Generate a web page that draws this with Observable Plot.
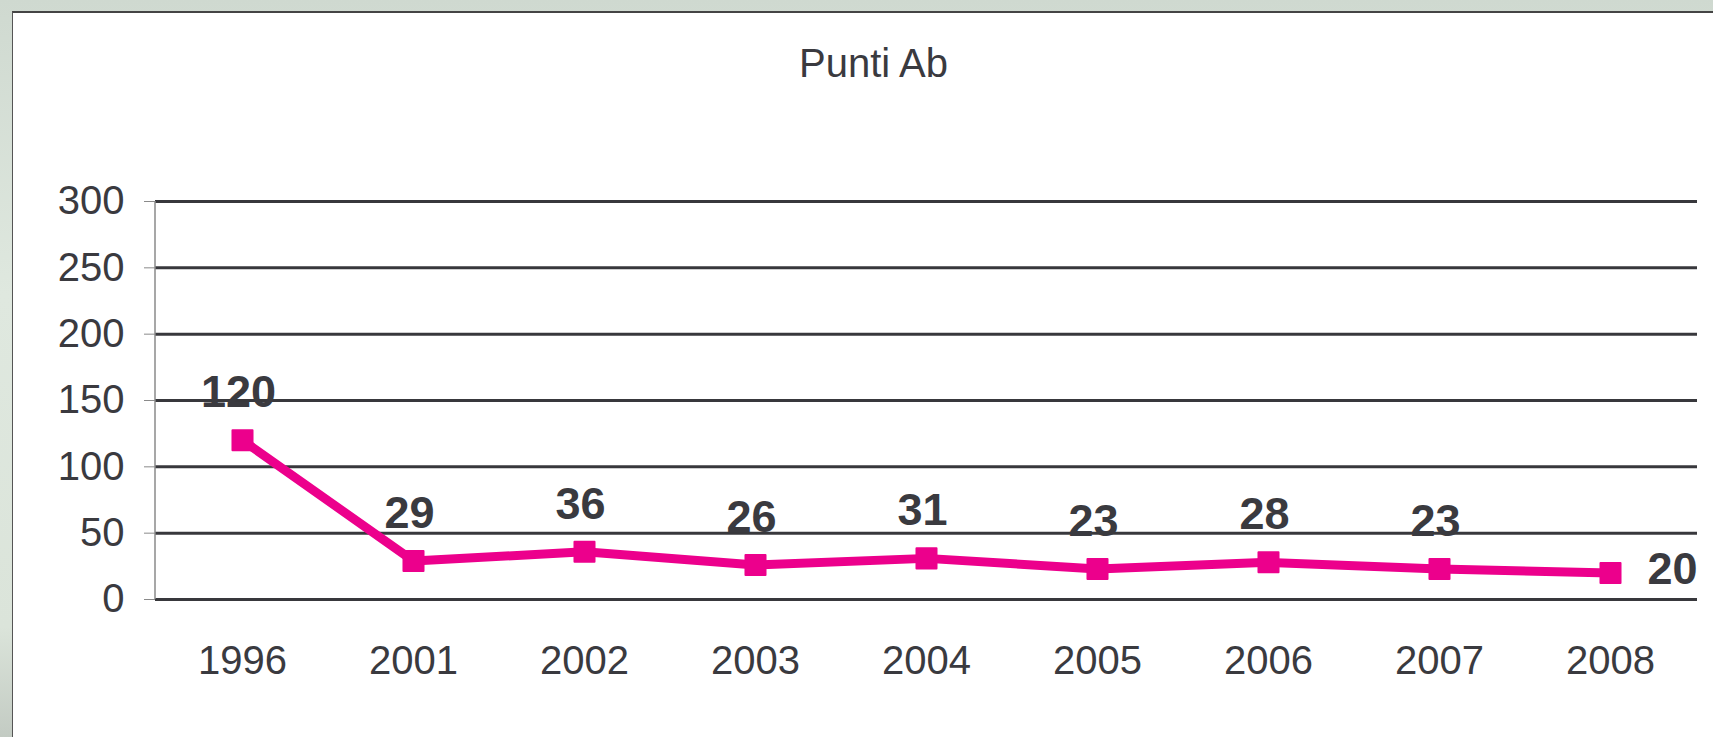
<!DOCTYPE html>
<html>
<head>
<meta charset="utf-8">
<script src="https://cdn.jsdelivr.net/npm/d3@7"></script>
<script src="https://cdn.jsdelivr.net/npm/@observablehq/plot@0.6"></script>
<style>
  html, body { margin: 0; padding: 0; }
  body {
    width: 1713px; height: 737px; overflow: hidden; position: relative;
    background: linear-gradient(180deg, #cfd9d0 0%, #dfe8df 40%, #dbe4da 85%, #c3cbc3 100%);
    font-family: "Liberation Sans", Arial, sans-serif;
  }
  #box {
    position: absolute; left: 12px; top: 11px; right: -4px; bottom: -4px;
    background: #ffffff;
    border-left: 1.5px solid #555;
    border-top: 2px solid #444;
  }
  #title {
    position: absolute; left: 0; top: 43px; width: 1747px;
    text-align: center; font-size: 40px; line-height: 40px; color: #3a3a3f;
  }
  #chart { position: absolute; left: 0; top: 120px; }
</style>
</head>
<body>
<div id="box"></div>
<div id="title">Punti Ab</div>
<div id="chart"></div>
<script>
const years = ["1996", "2001", "2002", "2003", "2004", "2005", "2006", "2007", "2008"];
const values = [120, 29, 36, 26, 31, 23, 28, 23, 20];
const yTicks = [0, 50, 100, 150, 200, 250, 300];

const data = years.map((year, i) => ({year, value: values[i]}));
const pink = "#EC008C";
const ink = "#3a3a3f";

const yAxisLine = (index, scales, values, dims) => {
  const g = d3.create("svg:line")
    .attr("x1", dims.marginLeft).attr("x2", dims.marginLeft)
    .attr("y1", scales.y(yTicks[0])).attr("y2", scales.y(yTicks[yTicks.length - 1]))
    .attr("stroke", "#8a8a8a").attr("stroke-width", 1.5);
  return g.node();
};

const chart = Plot.plot({
  width: 1713,
  height: 617,
  marginLeft: 155,
  marginRight: 16,
  marginTop: 81,
  marginBottom: 138,
  style: {
    fontFamily: '"Liberation Sans", Arial, sans-serif',
    fontSize: "40px",
    color: ink,
    background: "transparent",
    overflow: "visible"
  },
  x: {type: "point", domain: years, padding: 0.5, label: null},
  y: {domain: [0, 300], label: null},
  marks: [
    Plot.ruleY(yTicks, {stroke: "#38383c", strokeWidth: 3}),
    yAxisLine,
    Plot.axisY({ticks: yTicks, tickSize: 11, tickPadding: 20, stroke: "#8a8a8a", fill: ink, fontSize: 40, label: null}),
    Plot.axisX({tickSize: 0, tickPadding: 46, fill: ink, fontSize: 40, label: null}),
    Plot.line(data, {x: "year", y: "value", stroke: pink, strokeWidth: 9, strokeLinejoin: "round"}),
    Plot.dot(data, {x: "year", y: "value", symbol: "square", r: 11.3, fill: pink, stroke: pink, strokeWidth: 2, strokeLinejoin: "round"}),
    Plot.text(data.slice(0, -1), {x: "year", y: "value", text: d => String(d.value), dx: -4, dy: -33, lineAnchor: "bottom", fontSize: 45, fontWeight: "bold", fill: ink}),
    Plot.text(data.slice(-1), {x: "year", y: "value", text: d => String(d.value), dx: 37, dy: -3, textAnchor: "start", lineAnchor: "middle", fontSize: 45, fontWeight: "bold", fill: ink})
  ]
});
document.getElementById("chart").appendChild(chart);
</script>
</body>
</html>
